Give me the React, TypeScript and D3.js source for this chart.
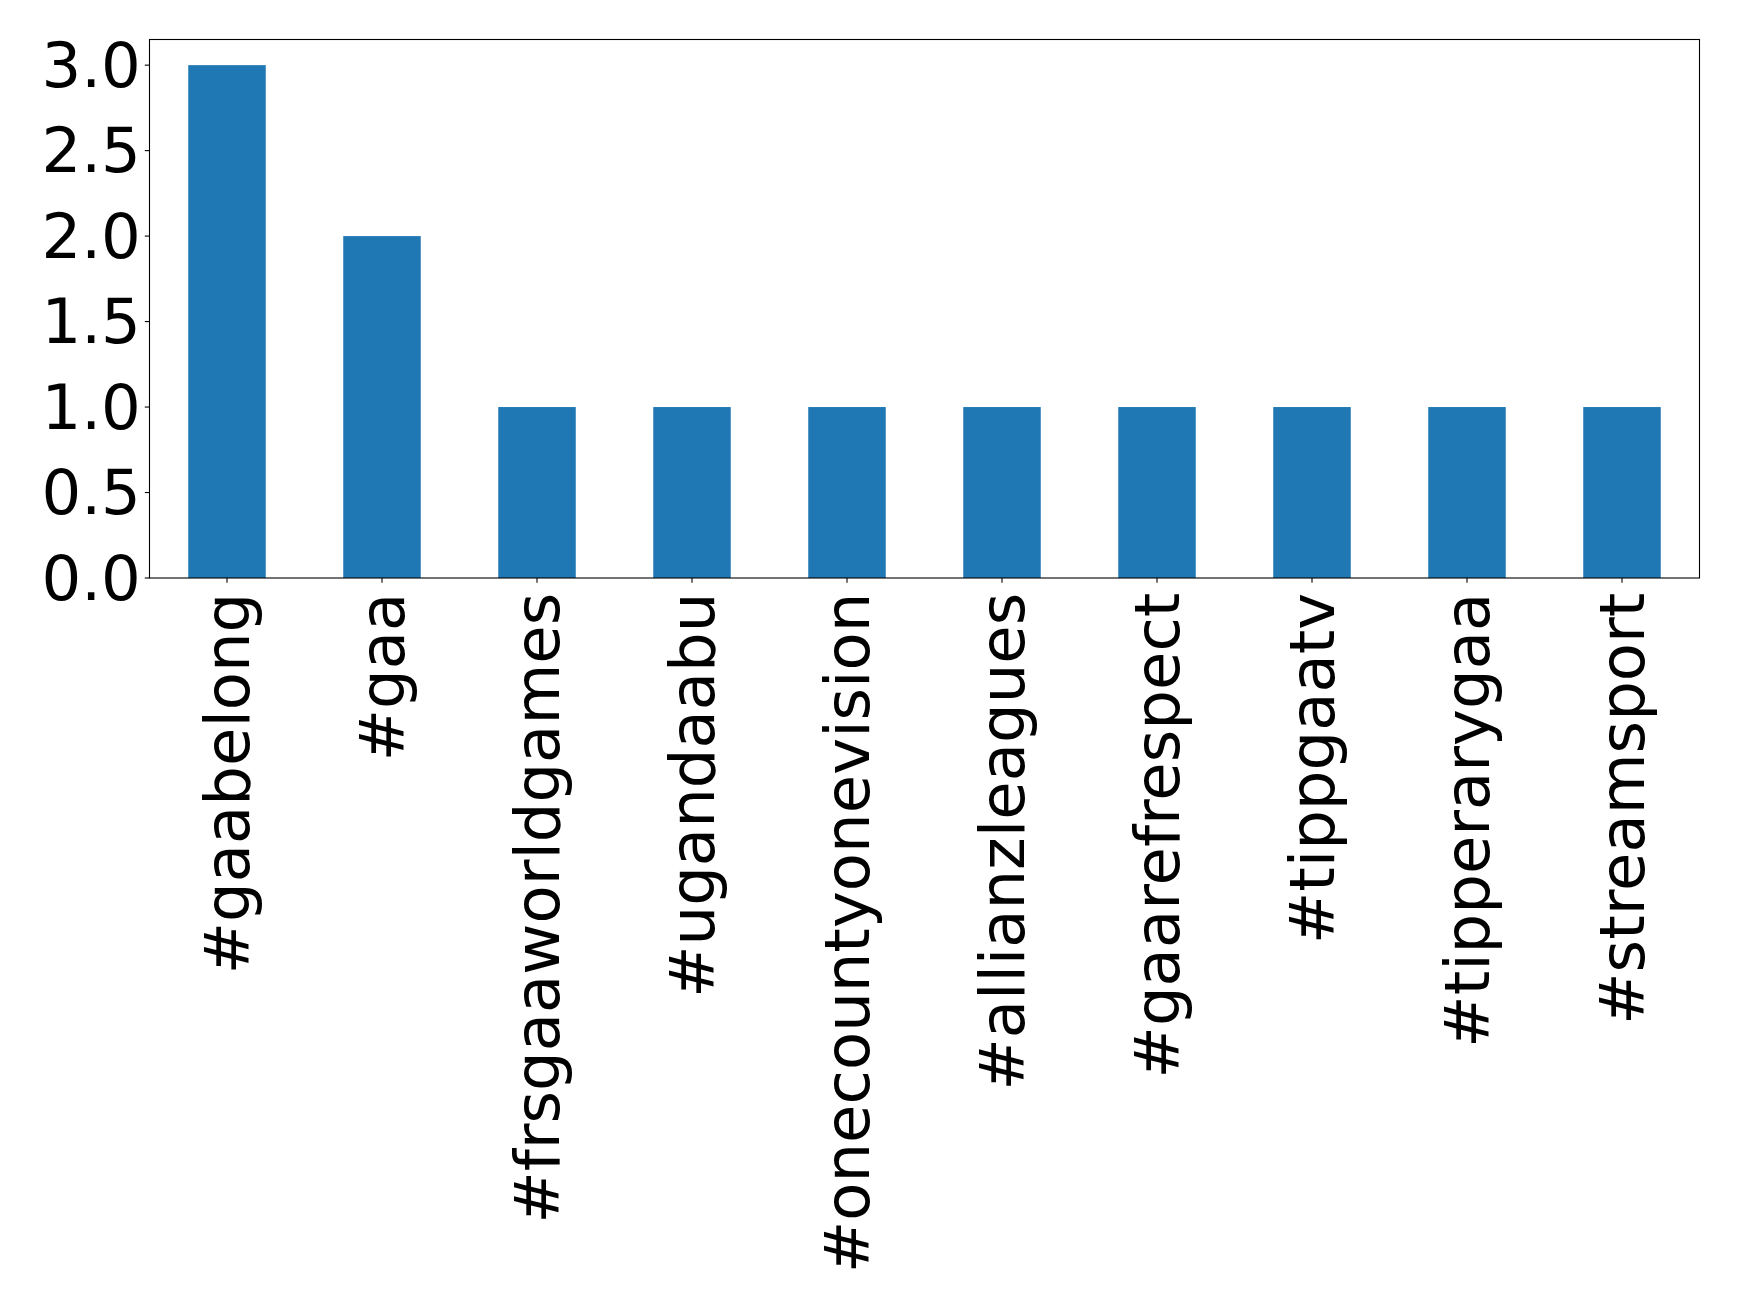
import React from "react";
import * as d3 from "d3";

const categories = [
  "#gaabelong",
  "#gaa",
  "#frsgaaworldgames",
  "#ugandaabu",
  "#onecountyonevision",
  "#allianzleagues",
  "#gaarefrespect",
  "#tippgaatv",
  "#tipperarygaa",
  "#streamsport",
];
const values = [3, 2, 1, 1, 1, 1, 1, 1, 1, 1];
const yTicks = [0, 0.5, 1, 1.5, 2, 2.5, 3];

const W = 1739;
const H = 1308;
const left = 149.5;
const right = 1699.5;
const top = 39.5;
const bottom = 578;
const FONT = "'DejaVu Sans', sans-serif";
const FS = 62.5;

export default function App() {
  const x = d3
    .scaleLinear()
    .domain([-0.5, categories.length - 0.5])
    .range([left, right]);
  const y = d3.scaleLinear().domain([0, 3.15]).range([bottom, top]);
  const bw = x(0.25) - x(-0.25);

  return (
    <svg
      width={W}
      height={H}
      style={{ position: "absolute", left: 0, top: 0, background: "#fff" }}
    >
      <rect x={0} y={0} width={W} height={H} fill="#fff" />
      {values.map((v, i) => (
        <rect
          key={i}
          x={x(i) - bw / 2}
          y={y(v)}
          width={bw}
          height={y(0) - y(v)}
          fill="#1f77b4"
        />
      ))}
      <rect
        x={left}
        y={top}
        width={right - left}
        height={bottom - top}
        fill="none"
        stroke="#000"
        strokeWidth={1.1}
      />
      {yTicks.map((t) => (
        <g key={t}>
          <line
            x1={left - 4.7}
            x2={left}
            y1={y(t)}
            y2={y(t)}
            stroke="#000"
            strokeWidth={1.1}
          />
          <text
            x={left - 4.7 - 4}
            y={y(t)}
            textAnchor="end"
            dominantBaseline="central"
            fontFamily={FONT}
            fontSize={FS}
            fill="#000"
          >
            {t.toFixed(1)}
          </text>
        </g>
      ))}
      {categories.map((c, i) => (
        <g key={c}>
          <line
            x1={x(i)}
            x2={x(i)}
            y1={bottom}
            y2={bottom + 4.7}
            stroke="#000"
            strokeWidth={1.1}
          />
          <text
            transform={`translate(${x(i)},${bottom + 4.7 + 10}) rotate(-90)`}
            textAnchor="end"
            dominantBaseline="central"
            fontFamily={FONT}
            fontSize={FS}
            fill="#000"
          >
            {c}
          </text>
        </g>
      ))}
    </svg>
  );
}
